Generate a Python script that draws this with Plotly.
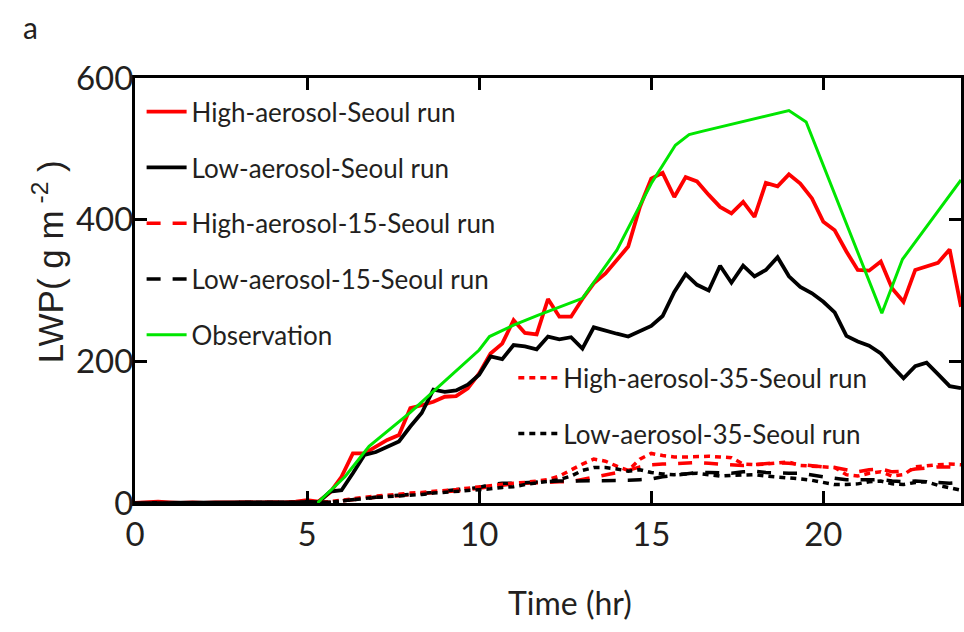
import plotly.graph_objects as go

# ---------------- data ----------------
TIME_HR = [0, 0.33, 0.67, 1, 1.33, 1.67, 2, 2.33, 2.67, 3, 3.33, 3.67, 4, 4.33, 4.67,
           5, 5.33, 5.67, 6, 6.33, 6.67, 7, 7.33, 7.67, 8, 8.33, 8.67, 9, 9.33, 9.67,
           10, 10.33, 10.67, 11, 11.33, 11.67, 12, 12.33, 12.67, 13, 13.33, 13.67,
           14, 14.33, 14.67, 15, 15.33, 15.67, 16, 16.33, 16.67, 17, 17.33, 17.67,
           18, 18.33, 18.67, 19, 19.33, 19.67, 20, 20.33, 20.67, 21, 21.33, 21.67,
           22, 22.33, 22.67, 23, 23.33, 23.67, 24]

HIGH_SEOUL = [0, 1, 2, 1, 0, 1, 0, 1, 1, 0, 1, 0, 1, 1, 2,
              4, 2, 15, 37, 70, 70, 80, 89, 96, 134, 138, 143, 150, 151, 162,
              183, 211, 225, 258, 240, 238, 288, 263, 263, 288, 310, 324,
              343, 362, 418, 458, 466, 432, 460, 454, 435, 418, 409, 425,
              404, 452, 447, 464, 451, 430, 397, 385, 355, 329, 328, 341,
              303, 284, 329, 334, 339, 358, 277]

LOW_SEOUL = [0, 0, 1, 1, 0, 0, 1, 0, 0, 0, 0, 1, 0, 0, 1,
             2, 1, 16, 18, 42, 68, 72, 80, 87, 108, 127, 160, 157, 159, 167,
             181, 207, 203, 223, 221, 217, 235, 231, 234, 218, 248, 243,
             239, 235, 242, 250, 264, 298, 323, 308, 300, 335, 311, 335,
             320, 329, 347, 320, 305, 296, 284, 269, 236, 228, 222, 211,
             193, 176, 193, 198, 182, 165, 162]

HIGH_15 = [0, 0, 1, 0, 0, 0, 1, 0, 0, 0, 0, 0, 1, 0, 1,
           1, 0, 1, 3, 5, 6, 8, 9, 11, 12, 13, 15, 16, 17, 19,
           21, 24, 26, 27, 28, 29, 29, 30, 30, 33, 36, 40,
           42, 46, 51, 54, 55, 56, 56, 57, 56, 55, 53, 53,
           54, 55, 57, 56, 54, 52, 51, 50, 47, 44, 47, 48,
           44, 45, 48, 50, 51, 51, 50]

LOW_15 = [0, 0, 0, 1, 0, 0, 0, 0, 1, 0, 0, 0, 0, 0, 1,
          1, 0, 1, 3, 5, 7, 9, 10, 11, 12, 14, 15, 17, 19, 20,
          22, 26, 28, 28, 29, 30, 30, 31, 31, 31, 31, 31,
          31, 32, 33, 34, 37, 39, 41, 43, 43, 43, 42, 44,
          45, 43, 42, 42, 42, 39, 37, 35, 33, 33, 33, 33,
          31, 30, 31, 30, 28, 28, 29]

HIGH_35 = [0, 0, 1, 0, 0, 1, 0, 0, 0, 1, 0, 0, 0, 1, 1,
           1, 0, 2, 4, 7, 9, 10, 11, 13, 14, 15, 16, 18, 19, 21,
           23, 24, 26, 28, 29, 31, 33, 38, 47, 55, 62, 59,
           52, 46, 62, 70, 67, 65, 65, 66, 66, 65, 64, 55,
           54, 55, 57, 58, 53, 52, 51, 50, 40, 38, 42, 44,
           38, 40, 51, 53, 54, 55, 54]

LOW_35 = [0, 0, 0, 0, 1, 0, 0, 0, 0, 0, 1, 0, 0, 0, 0,
          1, 0, 1, 3, 5, 7, 8, 9, 10, 10, 12, 14, 15, 16, 17,
          18, 20, 22, 23, 26, 28, 30, 33, 38, 46, 50, 50,
          48, 45, 47, 43, 41, 40, 41, 42, 40, 38, 39, 40,
          40, 38, 37, 36, 34, 32, 29, 26, 26, 27, 30, 31,
          27, 26, 29, 30, 25, 21, 18]

OBS_TIME_HR = [5.3, 6.1, 6.8, 8.0, 9.0, 10.0, 10.3, 11.0, 11.7, 13.0, 14.0, 15.0,
               15.7, 16.1, 16.5, 19.0, 19.5, 21.7, 22.3, 24.0]
OBS_LWP = [0, 37, 80, 128, 172, 216, 235, 251, 265, 289, 357, 451,
           505, 520, 525, 554, 538, 268, 344, 456]

X_TICKS = [0, 5, 10, 15, 20]
Y_TICKS = [0, 200, 400, 600]

# ---------------- figure ----------------
NARROW = "Lato, Liberation Sans Narrow, sans-serif"
TXT = "#231f20"

fig = go.Figure()

series = [
    ("High-aerosol-Seoul run", HIGH_SEOUL, "#ff0000", "solid", "legend", 3.8),
    ("Low-aerosol-Seoul run", LOW_SEOUL, "#000000", "solid", "legend", 3.8),
    ("High-aerosol-15-Seoul run", HIGH_15, "#ff0000", "14px,12px", "legend", 3.5),
    ("Low-aerosol-15-Seoul run", LOW_15, "#000000", "14px,12px", "legend", 3.5),
]
for i, (name, vals, col, dash, leg, w) in enumerate(series):
    fig.add_trace(go.Scatter(x=TIME_HR, y=vals, mode="lines", name=name,
                             line=dict(color=col, width=w, dash=dash),
                             legend=leg, legendgroup=f"g{i}"))

fig.add_trace(go.Scatter(x=OBS_TIME_HR, y=OBS_LWP, mode="lines", name="Observation",
                         line=dict(color="#00e600", width=3),
                         legend="legend", legendgroup="g4"))

fig.add_trace(go.Scatter(x=TIME_HR, y=HIGH_35, mode="lines", name="High-aerosol-35-Seoul run",
                         line=dict(color="#ff0000", width=3.5, dash="6px,5px"),
                         legend="legend2", legendgroup="g5"))
fig.add_trace(go.Scatter(x=TIME_HR, y=LOW_35, mode="lines", name="Low-aerosol-35-Seoul run",
                         line=dict(color="#000000", width=3.5, dash="6px,5px"),
                         legend="legend2", legendgroup="g6"))

axis_common = dict(showline=True, linewidth=3, linecolor="black", mirror="ticks",
                   ticks="inside", ticklen=12, tickwidth=3, tickcolor="black",
                   showgrid=False, zeroline=False,
                   tickfont=dict(family=NARROW, size=33, color=TXT))

fig.update_layout(
    width=964, height=632,
    margin=dict(l=135, r=0, t=78, b=129),
    plot_bgcolor="white", paper_bgcolor="white",
    xaxis=dict(range=[0, 24], tickvals=X_TICKS, **axis_common),
    yaxis=dict(range=[0, 600], tickvals=Y_TICKS, ticklabelstandoff=-8, **axis_common),
    legend=dict(x=0.008, y=0.976, xanchor="left", yanchor="top", itemwidth=40,
                bgcolor="rgba(0,0,0,0)", traceorder="grouped", tracegroupgap=19,
                font=dict(family=NARROW, size=26, color=TXT)),
    legend2=dict(x=0.458, y=0.35, xanchor="left", yanchor="top", itemwidth=40,
                 bgcolor="rgba(0,0,0,0)", traceorder="grouped", tracegroupgap=19,
                 font=dict(family=NARROW, size=26, color=TXT)),
    annotations=[
        dict(text="a", xref="paper", yref="paper", x=-0.127, y=1.12,
             xanchor="center", yanchor="middle", showarrow=False,
             font=dict(family=NARROW, size=30, color=TXT)),
        dict(text="Time (hr)", xref="paper", yref="paper", x=0.527, y=-0.235,
             xanchor="center", yanchor="middle", showarrow=False,
             font=dict(family=NARROW, size=32, color=TXT)),
        dict(text="LWP( g m<sup> -2</sup> )", xref="paper", yref="paper",
             x=-0.105, y=0.567, xanchor="center", yanchor="middle", showarrow=False,
             textangle=-90,
             font=dict(family="Liberation Sans, Arial, sans-serif", size=35, color=TXT)),
    ],
)

fig.write_html("out.html")
